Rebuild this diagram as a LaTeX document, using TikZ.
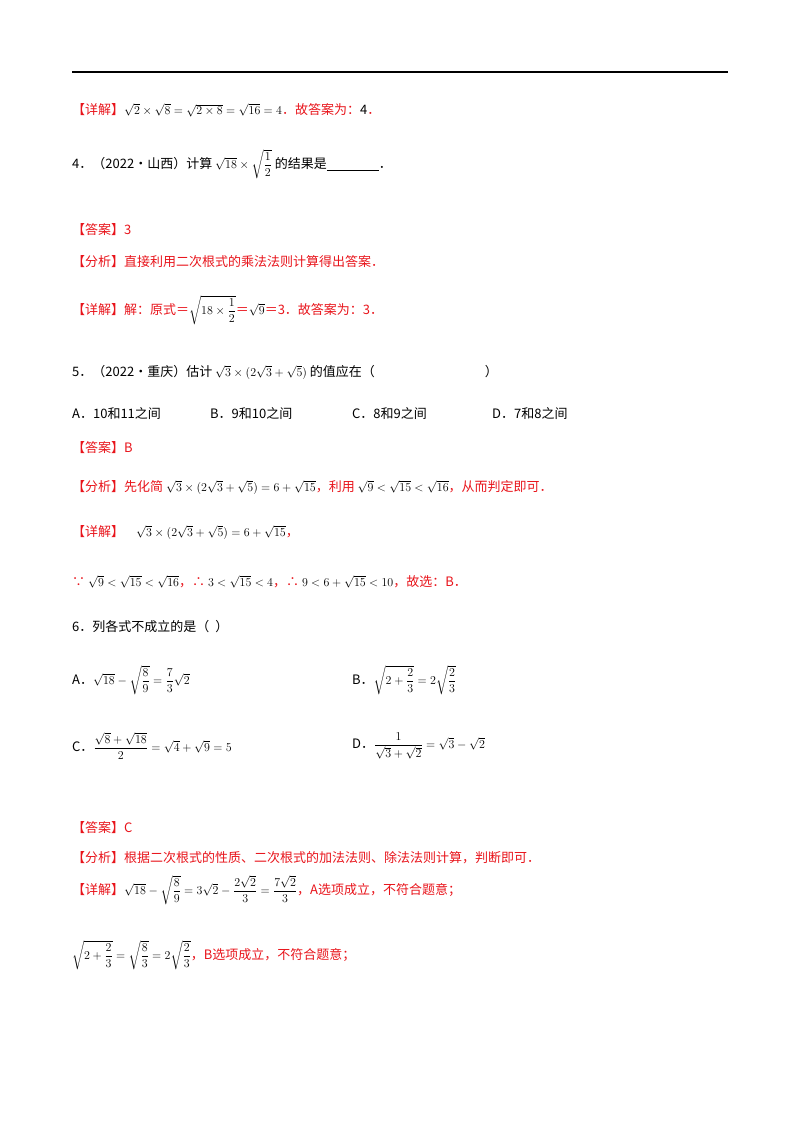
\documentclass[tikz,border=0pt]{standalone}
\usepackage{amsmath}
\usepackage{fontspec}
\setmainfont{Noto Sans CJK SC}
\definecolor{rd}{HTML}{E8141B}
\begin{document}
\begin{tikzpicture}[x=1pt,y=-1pt,
  t/.style={anchor=west,inner sep=0pt,font=\fontsize{13}{15}\selectfont},
  r/.style={t,text=rd}]
\useasboundingbox (0,0) rectangle (800,1132);
\draw[line width=1.5pt] (72,72) -- (728,72);
\node[r] (l1) at (72,110) {【详解】\textcolor{black}{$\sqrt2\times\sqrt8=\sqrt{2\times8}=\sqrt{16}=4$}．故答案为：\textcolor{black}{4}．};
\node[t] (q4) at (72,164) {4．（2022·山西）计算 $\sqrt{18}\times\sqrt{\dfrac12}$ 的结果是\underline{\hspace{52pt}}．};
\node[r] (a4) at (72,230) {【答案】3};
\node[r] (f4) at (72,262) {【分析】直接利用二次根式的乘法法则计算得出答案．};
\node[r] (d4) at (72,310) {【详解】解：原式＝\textcolor{black}{$\sqrt{18\times\dfrac12}$}＝\textcolor{black}{$\sqrt9$}＝3．故答案为：3．};
\node[t] (q5) at (72,372) {5．（2022·重庆）估计 $\sqrt3\times(2\sqrt3+\sqrt5)$ 的值应在（\hspace{110pt}）};
\node[t] (o5a) at (72,414) {A．10和11之间};
\node[t] (o5b) at (210,414) {B．9和10之间};
\node[t] (o5c) at (352,414) {C．8和9之间};
\node[t] (o5d) at (492,414) {D．7和8之间};
\node[r] (a5) at (72,448) {【答案】B};
\node[r] (f5) at (72,487) {【分析】先化简 \textcolor{black}{$\sqrt3\times(2\sqrt3+\sqrt5)=6+\sqrt{15}$}，利用 \textcolor{black}{$\sqrt9<\sqrt{15}<\sqrt{16}$}，从而判定即可．};
\node[r] (d5) at (72,532) {【详解】\hspace{12pt}\textcolor{black}{$\sqrt3\times(2\sqrt3+\sqrt5)=6+\sqrt{15}$}，};
\node[r] (d5b) at (72,582) {∵ \textcolor{black}{$\sqrt9<\sqrt{15}<\sqrt{16}$}，∴ \textcolor{black}{$3<\sqrt{15}<4$}，∴ \textcolor{black}{$9<6+\sqrt{15}<10$}，故选：B．};
\node[t] (q6) at (72,627) {6．列各式不成立的是（\hspace{6pt}）};
\node[t] (o6a) at (72,680) {A．$\sqrt{18}-\sqrt{\dfrac89}=\dfrac73\sqrt2$};
\node[t] (o6b) at (352,680) {B．$\sqrt{2+\dfrac23}=2\sqrt{\dfrac23}$};
\node[t] (o6c) at (72,746) {C．$\dfrac{\sqrt8+\sqrt{18}}{2}=\sqrt4+\sqrt9=5$};
\node[t] (o6d) at (352,746) {D．$\dfrac{1}{\sqrt3+\sqrt2}=\sqrt3-\sqrt2$};
\node[r] (a6) at (72,828) {【答案】C};
\node[r] (f6) at (72,858) {【分析】根据二次根式的性质、二次根式的加法法则、除法法则计算，判断即可．};
\node[r] (d6) at (72,890) {【详解】\textcolor{black}{$\sqrt{18}-\sqrt{\dfrac89}=3\sqrt2-\dfrac{2\sqrt2}{3}=\dfrac{7\sqrt2}{3}$}，A选项成立，不符合题意；};
\node[r] (d6b) at (72,955) {\textcolor{black}{$\sqrt{2+\dfrac23}=\sqrt{\dfrac83}=2\sqrt{\dfrac23}$}，B选项成立，不符合题意；};
\end{tikzpicture}
\end{document}
